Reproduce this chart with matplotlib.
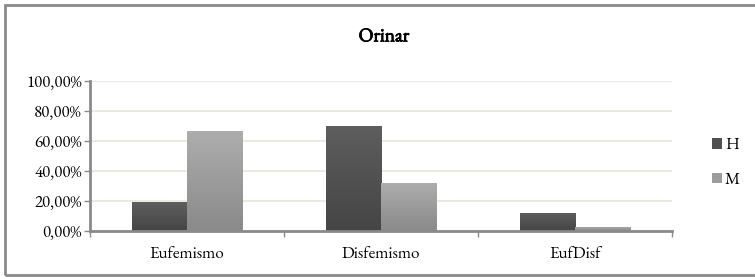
import matplotlib
matplotlib.use("Agg")
import matplotlib.pyplot as plt
import matplotlib.patheffects as pe
import numpy as np
from matplotlib.patches import Rectangle
from matplotlib.colors import LinearSegmentedColormap

categories = ["Eufemismo", "Disfemismo", "EufDisf"]
series_names = ["H", "M"]
H = [0.193, 0.70, 0.12]
M = [0.665, 0.32, 0.027]
yticks = [0.0, 0.2, 0.4, 0.6, 0.8, 1.0]

plt.rcParams['font.family'] = ['EB Garamond', 'Liberation Serif', 'DejaVu Serif']

W, Hpx = 755, 277
fig = plt.figure(figsize=(W / 100, Hpx / 100), dpi=100)

# outer border (right edge runs off the picture)
fig.patches.append(Rectangle((5 / W, 2 / Hpx), 1.5, (Hpx - 7) / Hpx,
                             transform=fig.transFigure, fill=False,
                             edgecolor="#8a8a8a", linewidth=2))

ax = fig.add_axes([90 / W, 1 - 231 / Hpx, (672 - 90) / W, (231 - 81) / Hpx])
x = np.arange(len(categories))
bw = 0.284

colsH = ("#5e5e5e", "#454545")
colsM = ("#adadad", "#8a8a8a")

def grad_bars(xs, vals, cols, label, legcol):
    bars = ax.bar(xs, vals, bw, color=cols[1], zorder=3, linewidth=0)
    cmap = LinearSegmentedColormap.from_list("g", [cols[1], cols[0]])
    for b in bars:
        x0, y0 = b.get_x(), b.get_y()
        w, h = b.get_width(), b.get_height()
        im = ax.imshow(np.linspace(0, 1, 64).reshape(-1, 1), cmap=cmap, aspect="auto",
                       extent=[x0, x0 + w, y0, y0 + h], origin="lower", zorder=3.5)
        im.set_clip_path(b)
    ax.bar([0], [0], 0, color=legcol, label=label)
    return bars

grad_bars(x - bw / 2, H, colsH, series_names[0], "#505050")
grad_bars(x + bw / 2, M, colsM, series_names[1], "#9c9c9c")

fs = 12.2
ax.set_xlim(-0.5, len(categories) - 0.5)
ax.set_ylim(0, 1.0)
ax.set_yticks(yticks)
ax.set_yticklabels([("%.2f%%" % (v * 100)).replace(".", ",") for v in yticks], fontsize=fs)
ax.set_xticks(x)
ax.set_xticklabels(categories, fontsize=fs)
ax.tick_params(axis="x", which="major", length=0, pad=11)
ax.set_xticks(np.arange(-0.5, len(categories), 1.0), minor=True)
ax.tick_params(axis="x", which="minor", length=4, color="#8a8a8a", width=1)
ax.tick_params(axis="y", length=4, color="#8a8a8a", width=1, pad=2)

ax.grid(axis="y", color="#eceadf", linewidth=1.5, zorder=0)
ax.set_axisbelow(True)
for s in ["top", "right"]:
    ax.spines[s].set_visible(False)
for s in ["left", "bottom"]:
    ax.spines[s].set_color("#8a8a8a")
    ax.spines[s].set_linewidth(2)
ax.spines["bottom"].set_zorder(5)

fig.text(384 / W, 1 - 37 / Hpx, "Orinar", ha="center", va="center",
         fontsize=14, fontweight="bold",
         path_effects=[pe.withStroke(linewidth=0.6, foreground="black")])

leg = ax.legend(loc="center left", bbox_to_anchor=(697 / W, 1 - 163 / Hpx),
                bbox_transform=fig.transFigure, frameon=False, fontsize=fs,
                handlelength=0.6, handleheight=0.6, handletextpad=0.15,
                labelspacing=1.05)

fig.savefig("out.png", dpi=100)
